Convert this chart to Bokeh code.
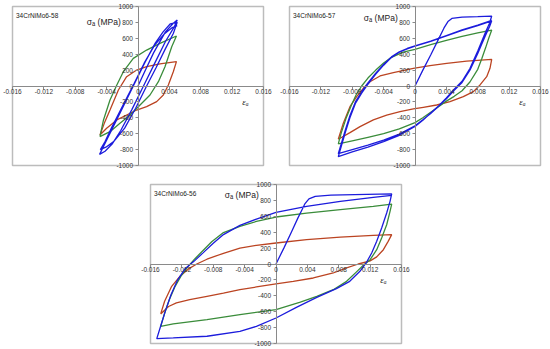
from bokeh.plotting import figure
from bokeh.models import Range1d, FixedTicker, CustomJSTickFormatter, ColumnDataSource, LabelSet
from bokeh.layouts import column, row
from bokeh.core.properties import value
from bokeh.embed import file_html
from bokeh.resources import INLINE

FONT = "Liberation Sans"
RED = "#bb4422"
GREEN = "#3a8c3a"
BLUE = "#1c1cdc"

X_TICKS = [-0.016, -0.012, -0.008, -0.004, 0.0, 0.004, 0.008, 0.012, 0.016]
X_TICK_LABELS = ["-0.016", "-0.012", "-0.008", "-0.004", "0", "0.004", "0.008", "0.012", "0.016"]
Y_TICKS = [-1000, -800, -600, -400, -200, 0, 200, 400, 600, 800, 1000]
Y_TICK_LABELS = ["-1000", "-800", "-600", "-400", "-200", "0", "200", "400", "600", "800", "1000"]

TITLES = ["34CrNiMo6-58", "34CrNiMo6-57", "34CrNiMo6-56"]
Y_LABEL = "σₐ (MPa)"
X_LABEL = "εₐ"

# ---------------- 34CrNiMo6-58 ----------------
p58_red_e = [-0.00485, -0.0043, -0.00357, -0.0025, -0.00145, -0.00017, 0.0011, 0.0028, 0.0049,
             0.0045, 0.00387, 0.00323, 0.00238, 0.0011, -0.00017, -0.00145, -0.0027, -0.004, -0.00485]
p58_red_s = [-616, -470, -302, -50, 117, 201, 243, 277, 306,
             180, 13, -113, -197, -260, -302, -365, -427, -532, -616]

p58_green_e = [-0.00485, -0.0044, -0.00357, -0.0027, -0.00187, -0.0006, 0.0011, 0.0028, 0.0049,
               0.0043, 0.00344, 0.0026, 0.00153, 0.00026, -0.001, -0.0023, -0.00357, -0.00485]
p58_green_s = [-637, -427, -176, 13, 180, 348, 452, 536, 629,
               494, 243, 54, -113, -239, -365, -469, -574, -637]

p58_blue_e = [0.0, 0.0008, 0.002, 0.0035, 0.0045, 0.005,
              0.0046, 0.0035, 0.0022, 0.0007, -0.0008, -0.0022, -0.0033, -0.0042, -0.0049,
              -0.0044, -0.0035, -0.0021, -0.0006, 0.0009, 0.0022, 0.0032, 0.0041, 0.005,
              0.0045, 0.0035, 0.0023, 0.0011, -0.0003, -0.0017, -0.0031, -0.0041, -0.0048,
              -0.0042, -0.0033, -0.0019, -0.0005, 0.0008, 0.0021, 0.0033, 0.0043, 0.005]
p58_blue_s = [0, 170, 420, 680, 790, 830,
              740, 560, 300, 0, -300, -560, -730, -820, -860,
              -760, -580, -300, 0, 300, 540, 680, 780, 800,
              660, 470, 230, 0, -280, -530, -700, -770, -800,
              -700, -510, -240, 30, 290, 510, 650, 730, 760]

# ---------------- 34CrNiMo6-57 ----------------
p57_red_e = [-0.00978, -0.00914, -0.00829, -0.00744, -0.00659, -0.00574, -0.00446, -0.00276, -0.00021,
             0.00191, 0.00404, 0.00659, 0.00978,
             0.00956, 0.00914, 0.00829, 0.00744, 0.00616, 0.00446, 0.00276, 0.00106, -0.00021,
             -0.00191, -0.00361, -0.00531, -0.00701, -0.00829, -0.00978]
p57_red_s = [-670, -469, -260, -134, -29, 54, 126, 168, 222,
             256, 285, 314, 335,
             222, 117, 13, -71, -134, -197, -239, -268, -289,
             -323, -365, -427, -511, -587, -670]

p57_green_e = [-0.00978, -0.0094, -0.0088, -0.0081, -0.0075, -0.0068, -0.006, -0.005, -0.004, -0.003,
               -0.0015, 0.0, 0.002, 0.004, 0.006, 0.008, 0.00978,
               0.0094, 0.009, 0.0085, 0.008, 0.007, 0.006, 0.005, 0.004, 0.003, 0.002, 0.001, 0.0,
               -0.002, -0.004, -0.006, -0.008, -0.00978]
p57_green_s = [-729, -590, -410, -240, -110, 0, 100, 200, 290, 360,
               425, 461, 520, 575, 625, 668, 704,
               600, 480, 340, 210, 50, -60, -130, -190, -260, -330, -400, -460,
               -540, -600, -645, -690, -729]

p57_blue_e = [0.0, 0.001, 0.002, 0.003, 0.0037, 0.0042, 0.0047, 0.006, 0.008, 0.00978,
              0.0095, 0.009, 0.0085, 0.008, 0.007, 0.006, 0.005, 0.004, 0.003, 0.002, 0.001, 0.0,
              -0.002, -0.004, -0.006, -0.008, -0.00978,
              -0.0094, -0.0089, -0.0083, -0.0076, -0.0068, -0.006, -0.005, -0.004, -0.003, -0.002,
              -0.001, 0.0, 0.002, 0.004, 0.006, 0.008, 0.00978,
              0.0095, 0.009, 0.0085, 0.008, 0.007, 0.006, 0.005, 0.004, 0.003, 0.002, 0.001, 0.0,
              -0.002, -0.004, -0.006, -0.008, -0.00978,
              -0.0094, -0.0089, -0.0083, -0.0076, -0.0068, -0.006, -0.005, -0.004, -0.003, -0.002,
              -0.001, 0.0, 0.002, 0.004, 0.006, 0.008, 0.00978]
p57_blue_s = [0, 200, 390, 590, 730, 810, 850, 866, 872, 880,
              790, 680, 560, 440, 220, 60, -40, -150, -250, -340, -430, -510,
              -620, -700, -770, -830, -888,
              -760, -590, -400, -220, -90, 25, 150, 262, 360, 425,
              468, 500, 560, 630, 700, 760, 820,
              745, 640, 525, 410, 200, 45, -55, -160, -255, -345, -425, -500,
              -605, -680, -745, -800, -850,
              -725, -560, -375, -200, -72, 40, 160, 270, 366, 430,
              472, 505, 565, 635, 705, 765, 825]

# ---------------- 34CrNiMo6-56 ----------------
p56_red_e = [-0.0147, -0.0142, -0.0133, -0.0122, -0.0112, -0.0101, -0.0088, -0.0067, -0.0046, -0.0025,
             0.0, 0.0039, 0.0082, 0.0124, 0.01475,
             0.0143, 0.01369, 0.01284, 0.012, 0.0105, 0.009, 0.0073, 0.00476, 0.0022, 0.0,
             -0.0025, -0.0046, -0.0067, -0.0088, -0.011, -0.0127, -0.0137, -0.0147]
p56_red_s = [-628, -469, -281, -150, -65, 0, 60, 135, 201, 235,
             264, 306, 339, 360, 369,
             285, 180, 90, 40, 0, -50, -113, -176, -218, -251,
             -289, -323, -365, -406, -448, -490, -535, -628]

p56_green_e = [-0.0147, -0.0142, -0.0136, -0.0129, -0.0121, -0.0112, -0.0103, -0.0093, -0.0082, -0.0067,
               -0.0046, -0.0025, 0.0, 0.0039, 0.0082, 0.0124, 0.01475,
               0.01454, 0.01411, 0.01347, 0.01284, 0.012, 0.0111, 0.0102, 0.009, 0.0073, 0.0052, 0.0031,
               0.0, -0.0046, -0.0088, -0.0131, -0.0147]
p56_green_s = [-784, -620, -450, -290, -150, -30, 70, 170, 280, 395,
               472, 535, 591, 640, 685, 725, 754,
               662, 494, 327, 180, 54, -20, -105, -218, -323, -406, -480,
               -574, -637, -700, -754, -784]

p56_blue_e = [0.0, 0.001, 0.002, 0.0028, 0.0033, 0.0037, 0.0042, 0.005, 0.007, 0.01, 0.01475,
              0.01454, 0.01411, 0.01347, 0.01284, 0.0122, 0.01156, 0.0107, 0.0094, 0.0077, 0.0052, 0.0026,
              0.0, -0.0025, -0.0046, -0.0088, -0.0131, -0.0152,
              -0.0147, -0.0141, -0.0134, -0.0126, -0.0116, -0.0105, -0.0093, -0.008, -0.0067, -0.0046,
              -0.0025, 0.0, 0.0039, 0.0082, 0.0124, 0.01475]
p56_blue_s = [0, 200, 410, 580, 680, 760, 820, 850, 866, 873, 882,
              788, 641, 452, 285, 138, 25, -92, -218, -310, -420, -545,
              -679, -784, -847, -909, -930, -939,
              -780, -590, -390, -210, -60, 30, 140, 260, 370, 485,
              565, 649, 725, 788, 838, 863]

BOX_W = 251   # pixel size of each plotting box
BOX_H = 159


def panel(title, curves, pad, outer_left, sig_y):
    # pad = free pixels (left, right, top, bottom) around the box, inside the drawing area
    x0, x1 = X_TICKS[0], X_TICKS[-1]
    y0, y1 = Y_TICKS[0], Y_TICKS[-1]
    dx = (x1 - x0) / BOX_W
    dy = (y1 - y0) / BOX_H
    p = figure(frame_width=BOX_W + pad[0] + pad[1], frame_height=BOX_H + pad[2] + pad[3],
               x_range=Range1d(x0 - pad[0] * dx, x1 + pad[1] * dx),
               y_range=Range1d(y0 - pad[3] * dy, y1 + pad[2] * dy),
               toolbar_location=None, output_backend="svg",
               min_border_left=outer_left, min_border_right=0,
               min_border_top=0, min_border_bottom=0)
    p.xgrid.visible = False
    p.ygrid.visible = False
    p.outline_line_color = None
    p.background_fill_color = "white"
    p.border_fill_color = "white"
    p.quad(left=[x0], right=[x1], bottom=[y0], top=[y1], fill_color=None,
           line_color="#bcbcbc", line_width=1.5)
    for ax in (p.xaxis[0], p.yaxis[0]):
        ax.fixed_location = 0
        ax.axis_line_color = "#8a8a8a"
        ax.major_tick_line_color = "#8a8a8a"
        ax.minor_tick_line_color = None
        ax.major_tick_out = 3
        ax.major_tick_in = 0
        ax.formatter = CustomJSTickFormatter(code="return ''")
    p.xaxis.ticker = FixedTicker(ticks=X_TICKS)
    p.yaxis.ticker = FixedTicker(ticks=Y_TICKS)
    p.xaxis.bounds = (x0, x1)
    p.yaxis.bounds = (y0, y1)

    for xs, ys, col in curves:
        p.line(xs, ys, line_color=col, line_width=1.3)

    xsrc = ColumnDataSource(dict(x=X_TICKS, y=[0] * len(X_TICKS), t=X_TICK_LABELS))
    p.add_layout(LabelSet(x="x", y="y", text="t", source=xsrc, y_offset=-3,
                          text_align="center", text_baseline="top", text_font=value(FONT),
                          text_font_size=value("6.5px"), text_color="#333333"))
    ysrc = ColumnDataSource(dict(x=[0] * len(Y_TICKS), y=Y_TICKS, t=Y_TICK_LABELS))
    p.add_layout(LabelSet(x="x", y="y", text="t", source=ysrc, x_offset=-5,
                          text_align="right", text_baseline="middle", text_font=value(FONT),
                          text_font_size=value("6.5px"), text_color="#333333"))

    p.text(x=[x0], y=[y1], text=[title], x_offset=3.5, y_offset=9,
           text_baseline="middle", text_align="left", text_font=value(FONT),
           text_font_size=value("6.5px"), text_color="#222222")
    p.text(x=[-0.0022], y=[sig_y], text=[Y_LABEL], text_baseline="middle", text_align="right",
           text_font=value(FONT), text_font_size=value("8.5px"), text_color="#222222")
    p.text(x=[0.0137], y=[-200], text=[X_LABEL], text_baseline="middle", text_align="center",
           text_font=value("Liberation Serif"), text_font_style="italic",
           text_font_size=value("9px"), text_color="#222222")
    return p


p1 = panel(TITLES[0],
           [(p58_red_e, p58_red_s, RED), (p58_green_e, p58_green_s, GREEN), (p58_blue_e, p58_blue_s, BLUE)],
           (12, 13, 6, 9), 0, 810)
p2 = panel(TITLES[1],
           [(p57_red_e, p57_red_s, RED), (p57_green_e, p57_green_s, GREEN), (p57_blue_e, p57_blue_s, BLUE)],
           (13, 10, 6, 9), 0, 860)
p3 = panel(TITLES[2],
           [(p56_red_e, p56_red_s, RED), (p56_green_e, p56_green_s, GREEN), (p56_blue_e, p56_blue_s, BLUE)],
           (20, 15, 10, 6), 130, 870)

layout = column(row(p1, p2), p3)
open("out.html", "w").write(file_html(layout, INLINE))
